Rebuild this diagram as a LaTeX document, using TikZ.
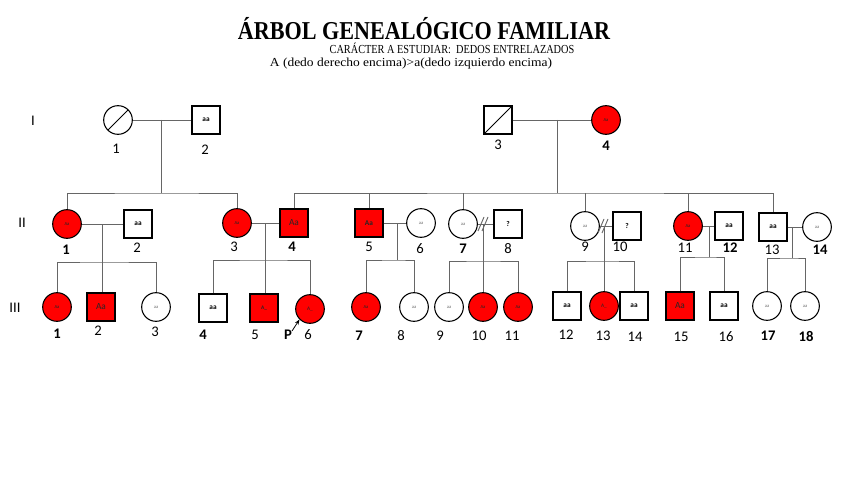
\documentclass[tikz,border=0pt]{standalone}
\usepackage{fontspec}
\usepackage{graphicx}
\setmainfont{Liberation Serif}
\newfontfamily\lblfont{Carlito}
\usetikzlibrary{arrows.meta,calc}
\begin{document}
\begin{tikzpicture}[x=0.75pt,y=-0.75pt,
 fem/.style={circle,draw=black,line width=0.8pt,minimum size=21.5pt,inner sep=0pt,font=\lblfont\fontsize{3.5}{4}\selectfont,text=black!55},
 mal/.style={rectangle,draw=black,line width=0.8pt,minimum size=21pt,inner sep=0pt,font=\lblfont\bfseries\fontsize{5.5}{6}\selectfont},
 aff/.style={fill=red,text=black!85},
 bigA/.style={font=\lblfont\fontsize{7}{8}\selectfont},
 dead/.style={path picture={\draw[line width=0.6pt] (path picture bounding box.south west) -- (path picture bounding box.north east);}},
 num/.style={font=\lblfont\fontsize{11}{12}\selectfont,inner sep=0pt},
 numb/.style={num,font=\lblfont\bfseries\fontsize{11}{12}\selectfont},
 con/.style={draw=black!60,line width=0.7pt},
]
\fill[white] (0,0) rectangle (848,477);
\useasboundingbox (0,0) rectangle (848,477);

% titles
\node[anchor=base,inner sep=0pt] (title) at (424,40) {\scalebox{0.86}[1]{\fontsize{19.3}{22}\selectfont\bfseries ÁRBOL GENEALÓGICO FAMILIAR}};
\node[anchor=base,inner sep=0pt] (sub1) at (452,54) {\scalebox{0.84}[1]{\fontsize{9.2}{10}\selectfont CARÁCTER A ESTUDIAR:\ \ DEDOS ENTRELAZADOS}};
\node[anchor=base,inner sep=0pt] (sub2) at (411,67) {\scalebox{1.1}[1]{\fontsize{9.2}{10}\selectfont A (dedo derecho encima)>a(dedo izquierdo encima)}};

% generation labels
\node[num] (gI) at (33,121) {I};
\node[num] (gII) at (22,223) {II};
\node[num] (gIII) at (15,308) {III};

% Generation I
\node[fem,dead] (I1) at (118,120) {};
\node[mal] (I2) at (206,120) {aa};
\node[mal,dead] (I3) at (498,120) {};
\node[fem,aff] (I4) at (606,120) {Aa};
\node[num] (nI1) at (116,149) {1};
\node[num] (nI2) at (205,150) {2};
\node[num] (nI3) at (498,145) {3};
\node[numb] (nI4) at (606,146) {4};

% Generation II
\node[fem,aff] (II1) at (67,224) {Aa};
\node[mal] (II2) at (138,224) {aa};
\node[fem,aff] (II3) at (237,223) {Aa};
\node[mal,aff,bigA] (II4) at (294,223) {Aa};
\node[mal,aff] (II5) at (369,223) {Aa};
\node[fem] (II6) at (421,223) {aa};
\node[fem] (II7) at (463,224) {aa};
\node[mal] (II8) at (508,224) {?};
\node[fem] (II9) at (585,226) {aa};
\node[mal] (II10) at (627,226) {?};
\node[fem,aff] (II11) at (688,226) {Aa};
\node[mal] (II12) at (729,226) {aa};
\node[mal] (II13) at (773,227) {aa};
\node[fem] (II14) at (817,227) {aa};

\node[numb] (nII1) at (66,250) {1};
\node[num] (nII2) at (137,248) {2};
\node[num] (nII3) at (234,247) {3};
\node[numb] (nII4) at (292,247) {4};
\node[num] (nII5) at (369,247) {5};
\node[num] (nII6) at (420,249) {6};
\node[numb] (nII7) at (463,249) {7};
\node[num] (nII8) at (508,249) {8};
\node[num] (nII9) at (585,247) {9};
\node[num] (nII10) at (620,247) {10};
\node[num] (nII11) at (685,248) {11};
\node[numb] (nII12) at (730,248) {12};
\node[num] (nII13) at (772,250) {13};
\node[numb] (nII14) at (820,250) {14};

% Generation III
\node[fem,aff] (III1) at (57,307) {Aa};
\node[mal,aff,bigA] (III2) at (101,307) {Aa};
\node[fem] (III3) at (156,307) {aa};
\node[mal] (III4) at (213,308) {aa};
\node[mal,aff] (III5) at (264,308) {\fontsize{4}{4}\selectfont A\_};
\node[fem,aff] (III6) at (310,309) {\fontsize{4}{4}\selectfont A\_};
\node[fem,aff] (III7) at (366,307) {Aa};
\node[fem] (III8) at (414,307) {aa};
\node[fem] (III9) at (449,307) {aa};
\node[fem,aff] (III10) at (483,307) {Aa};
\node[fem,aff] (III11) at (518,307) {Aa};
\node[mal] (III12) at (567,306) {aa};
\node[fem,aff] (III13) at (604,306) {\fontsize{4}{4}\selectfont A\_};
\node[mal] (III14) at (634,306) {aa};
\node[mal,aff,bigA] (III15) at (680,306) {Aa};
\node[mal] (III16) at (724,306) {aa};
\node[fem] (III17) at (767,306) {aa};
\node[fem] (III18) at (805,306) {aa};

\node[numb] (nIII1) at (57,334) {1};
\node[num] (nIII2) at (98,331) {2};
\node[num] (nIII3) at (155,332) {3};
\node[numb] (nIII4) at (203,335) {4};
\node[num] (nIII5) at (255,335) {5};
\node[numb] (P) at (288,335) {P};
\node[num] (nIII6) at (308,335) {6};
\node[numb] (nIII7) at (359,336) {7};
\node[num] (nIII8) at (401,336) {8};
\node[num] (nIII9) at (440,336) {9};
\node[num] (nIII10) at (479,336) {10};
\node[num] (nIII11) at (512,336) {11};
\node[num] (nIII12) at (566,335) {12};
\node[num] (nIII13) at (603,336) {13};
\node[num] (nIII14) at (635,337) {14};
\node[num] (nIII15) at (681,337) {15};
\node[num] (nIII16) at (726,337) {16};
\node[numb] (nIII17) at (768,336) {17};
\node[numb] (nIII18) at (806,336) {18};

% coordinates
\coordinate (m1) at (161,120);
\coordinate (s1) at (161,193);
\coordinate (m2) at (557,120);
\coordinate (s2) at (557,193);
\coordinate (m3) at (102,224);
\coordinate (s3) at (102,262);
\coordinate (m4) at (265,223);
\coordinate (s4) at (265,260);
\coordinate (m5) at (397,223);
\coordinate (s5) at (397,260);
\coordinate (m6) at (483,224);
\coordinate (s6) at (483,261);
\coordinate (m7) at (604,226);
\coordinate (s7) at (604,261);
\coordinate (m8) at (709,226);
\coordinate (s8) at (709,257);
\coordinate (m9) at (792,227);
\coordinate (s9) at (792,258);
\coordinate (pa) at (292,331);

% Generation I connections
\draw[con] (I1) -- (I2);
\draw[con] (I3) -- (I4);
\draw[con] (m1) -- (s1);
\draw[con] (m2) -- (s2);
\draw[con] (II1.north) |- (s1) -| (II3.north);
\draw[con] (II4.north) |- (s2) -| (II13.north);
\foreach \n in {II5,II7,II9,II11} \draw[con] (\n.north) -- (\n.north |- s2);

% Generation II couples
\draw[con] (II1) -- (II2);
\draw[con] (II3) -- (II4);
\draw[con] (II5) -- (II6);
\draw[con] (II7) -- (II8);
\draw[con] (II9) -- (II10);
\draw[con] (II11) -- (II12);
\draw[con] (II13) -- (II14);
% divorce marks
\draw[con] ($(m6)+(-5,7)$) -- ($(m6)+(1,-7)$);
\draw[con] ($(m6)+(-1,7)$) -- ($(m6)+(5,-7)$);
\draw[con] ($(m7)+(-6,7)$) -- ($(m7)+(0,-7)$);
\draw[con] ($(m7)+(-2,7)$) -- ($(m7)+(4,-7)$);

% descents
\draw[con] (m3) -- (m3 |- III2.north);
\draw[con] (III1.north) |- (s3) -| (III3.north);
\draw[con] (m4) -- (m4 |- III5.north);
\draw[con] (III4.north) |- (s4) -| (III6.north);
\draw[con] (m5) -- (s5);
\draw[con] (III7.north) |- (s5) -| (III8.north);
\draw[con] (m6) -- (m6 |- III10.north);
\draw[con] (III9.north) |- (s6) -| (III11.north);
\draw[con] (m7) -- (m7 |- III13.north);
\draw[con] (III12.north) |- (s7) -| (III14.north);
\draw[con] (m8) -- (s8);
\draw[con] (III15.north) |- (s8) -| (III16.north);
\draw[con] (m9) -- (s9);
\draw[con] (III17.north) |- (s9) -| (III18.north);

% proband arrow
\draw[-{Stealth[length=4pt,width=3pt]},line width=0.6pt] (pa) -- (III6.225);
\end{tikzpicture}
\end{document}
